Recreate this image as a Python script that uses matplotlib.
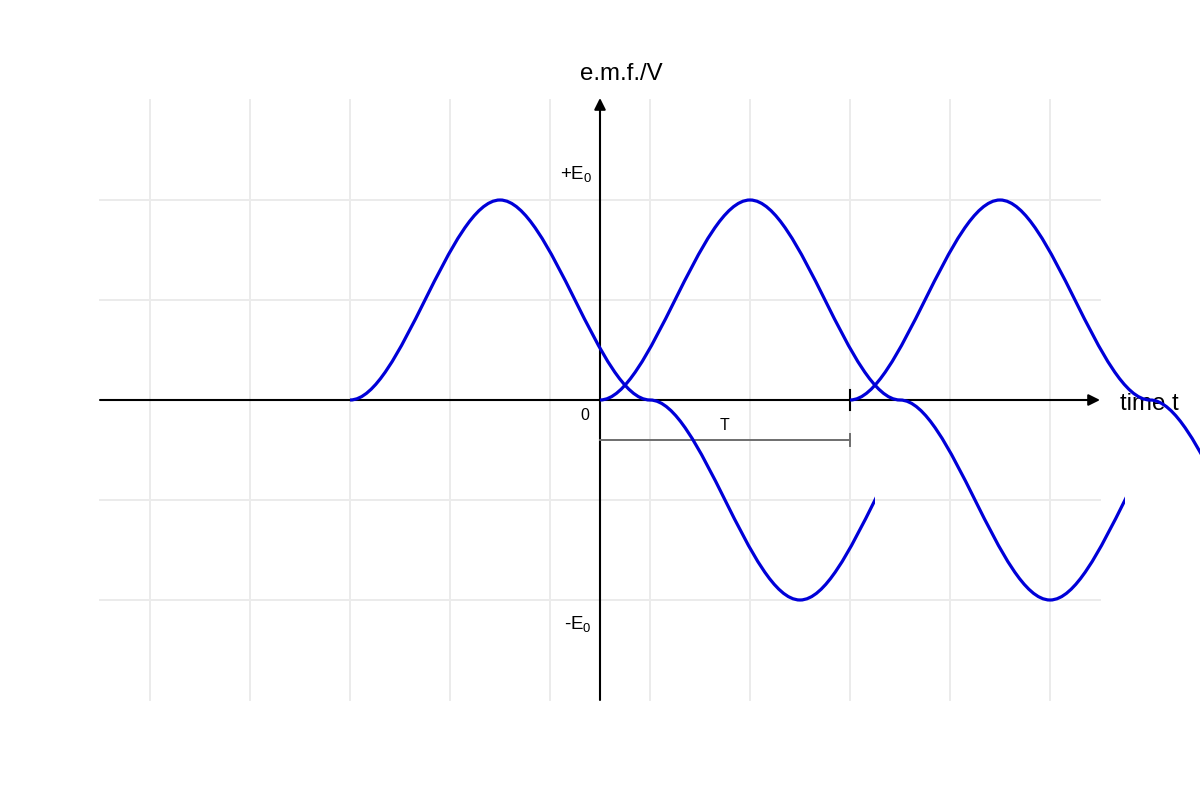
import numpy as np
import matplotlib
matplotlib.use("Agg")
import matplotlib.pyplot as plt
from matplotlib.path import Path
from matplotlib.patches import PathPatch, Rectangle

plt.rcParams['font.family'] = ['Liberation Sans', 'DejaVu Sans']
plt.rcParams['mathtext.fontset'] = 'custom'
plt.rcParams['mathtext.rm'] = 'Liberation Sans'
plt.rcParams['mathtext.it'] = 'Liberation Sans'

# ---- data (x in drawing units from origin, y in units of E0) ----
E0 = 1.0
wave_starts = [-250, 0, 250]      # where each e.m.f. trace begins
wave_ends = [275, 525, 700]       # where each trace stops
quarter = 150                     # distance zero -> peak
wave_levels = [0, 1, 0, -1, 0, 1]  # successive extremes (x E0)
period_T = 250                    # marked period T
grid_x = [-450, -350, -250, -150, -50, 50, 150, 250, 350, 450]
grid_y = [-1.0, -0.5, 0.5, 1.0]
y_tick_labels = ['+E$_{\\mathrm{0}}$', '-E$_{\\mathrm{0}}$']
y_tick_values = [1.13, -1.12]

fig = plt.figure(figsize=(12, 8), dpi=100)
ax = fig.add_axes([0, 0, 1, 1])
ax.set_xlim(-600, 600)
ax.set_ylim(-2, 2)
ax.axis('off')

# grid
for gx in grid_x:
    ax.plot([gx, gx], [-1.5, 1.5], color='#ebebeb', lw=1.4, zorder=0)
for gy in grid_y:
    ax.plot([-500, 500], [gy, gy], color='#ebebeb', lw=1.4, zorder=0)

# axes with arrows
ax.annotate('', xy=(500, 0), xytext=(-500, 0),
            arrowprops=dict(arrowstyle='-|>', lw=1.5, color='black',
                            mutation_scale=17, shrinkA=0, shrinkB=0), zorder=2)
ax.annotate('', xy=(0, 1.51), xytext=(0, -1.5),
            arrowprops=dict(arrowstyle='-|>', lw=1.5, color='black',
                            mutation_scale=17, shrinkA=0, shrinkB=0), zorder=2)

# waves as smooth cubic segments between extremes
for s, e in zip(wave_starts, wave_ends):
    xs = [s + i * quarter for i in range(len(wave_levels))]
    ys = [E0 * v for v in wave_levels]
    verts = [(xs[0], ys[0])]
    codes = [Path.MOVETO]
    for i in range(len(xs) - 1):
        d = (xs[i + 1] - xs[i]) / 3.0
        verts += [(xs[i] + d, ys[i]), (xs[i + 1] - d, ys[i + 1]), (xs[i + 1], ys[i + 1])]
        codes += [Path.CURVE4] * 3
    patch = PathPatch(Path(verts, codes), fill=False, edgecolor='#0000d8',
                      lw=2.3, zorder=5, capstyle='butt')
    ax.add_patch(patch)
    clip = Rectangle((s, -3), e - s, 6, transform=ax.transData)
    patch.set_clip_path(clip)

# period marker
ax.plot([period_T, period_T], [-0.05, 0.05], color='black', lw=1.5, zorder=3)
ax.plot([0, period_T], [-0.2, -0.2], color='#6e6e6e', lw=1.4, zorder=3)
ax.plot([period_T, period_T], [-0.17, -0.23], color='#6e6e6e', lw=1.4, zorder=3)
ax.text(period_T / 2, -0.13, 'T', ha='center', va='center', fontsize=11.5)

# labels
ax.text(21, 1.63, 'e.m.f./V', ha='center', va='center', fontsize=17.3)
ax.text(520, -0.02, 'time t', ha='left', va='center', fontsize=17.3)
ax.text(-15, -0.08, '0', ha='center', va='center', fontsize=11.5)
for lab, yv in zip(y_tick_labels, y_tick_values):
    ax.text(-8, yv, lab, ha='right', va='center', fontsize=13.5)

fig.savefig('out.png', dpi=100)
